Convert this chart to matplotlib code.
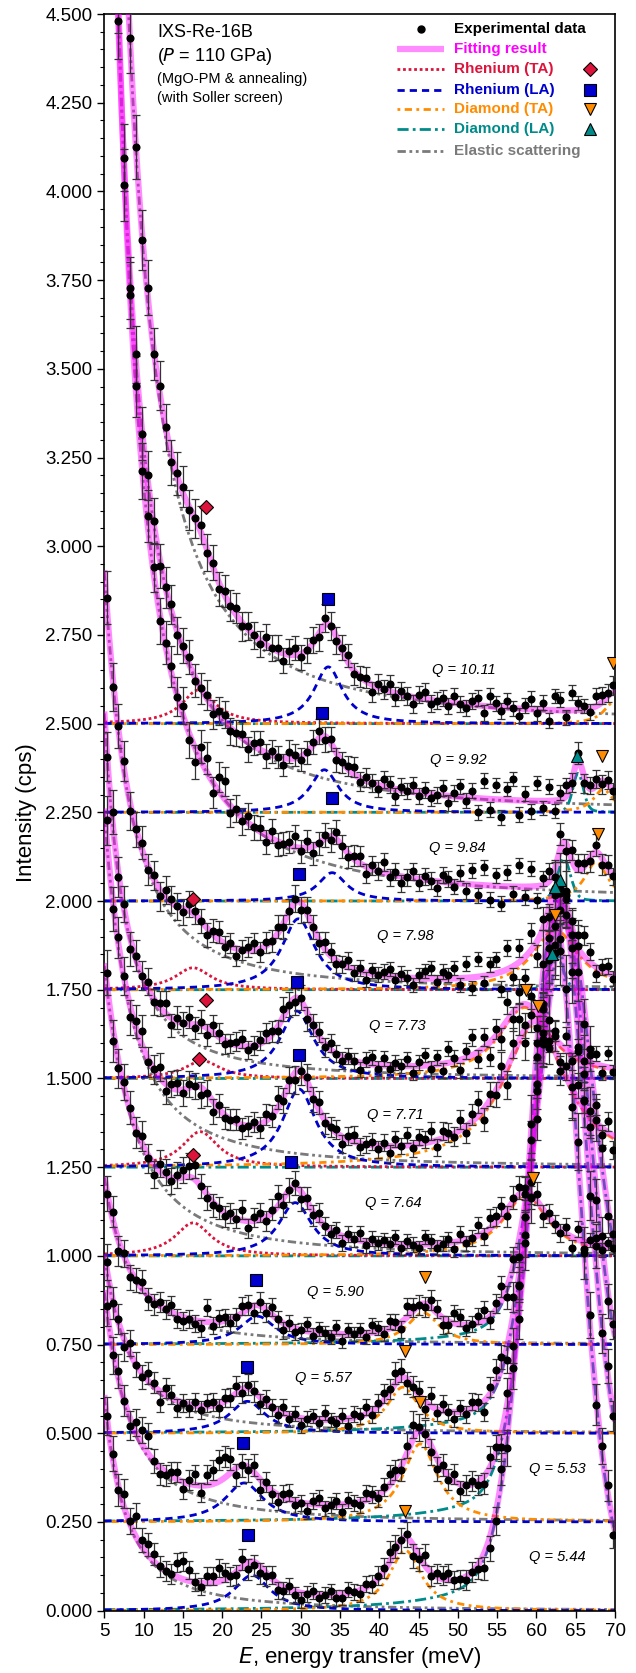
import numpy as np
import matplotlib
matplotlib.use("Agg")
import matplotlib.pyplot as plt
from matplotlib.ticker import MultipleLocator, FormatStrFormatter

plt.rcParams['font.family'] = ['Liberation Sans', 'DejaVu Sans']

# ---- spectra, listed bottom to top ----
q_values = ["5.44", "5.53", "5.57", "5.90", "7.64", "7.71", "7.73", "7.98", "9.84", "9.92", "10.11"]
offsets = [0.00, 0.25, 0.50, 0.75, 1.00, 1.25, 1.50, 1.75, 2.00, 2.25, 2.50]

# elastic line: K / (E^2 + g^2)
elastic_k = [17.0, 22.0, 17.0, 16.0, 33.5, 34.0, 27.2, 40.0, 118.0, 104.0, 133.0]
elastic_g = [1.8, 3.0, 3.0, 3.0, 4.0, 3.0, 1.2, 3.0, 0.8, 0.8, 1.0]

# Rhenium TA (Lorentzian: position, height, half width)
re_ta_pos = [0, 0, 0, 0, 16.3, 17.2, 17.5, 16.3, 0, 0, 17.0]
re_ta_amp = [0, 0, 0, 0, 0.093, 0.10, 0.05, 0.062, 0, 0, 0.095]
re_ta_hw = [2.8, 2.8, 2.8, 2.8, 2.8, 2.8, 2.8, 2.8, 2.8, 2.8, 2.6]

# Rhenium LA
re_la_pos = [23.8, 22.8, 23.2, 24.5, 29.3, 29.8, 29.5, 29.7, 34.0, 33.0, 33.5]
re_la_amp = [0.10, 0.11, 0.09, 0.08, 0.15, 0.22, 0.19, 0.20, 0.08, 0.12, 0.16]
re_la_hw = [2.8, 3.0, 2.8, 2.8, 2.6, 2.6, 2.6, 2.6, 2.2, 2.2, 2.2]

# Diamond TA
d_ta_pos = [43.3, 45.2, 43.0, 45.6, 58.6, 59.8, 58.5, 62.4, 67.6, 68.5, 69.8]
d_ta_amp = [0.17, 0.22, 0.13, 0.09, 0.17, 0.40, 0.20, 0.17, 0.11, 0.065, 0.06]
d_ta_hw = [2.5, 2.7, 2.5, 2.5, 3.5, 5.0, 4.0, 3.5, 1.8, 1.5, 1.5]

# Diamond LA (pseudo-Voigt: position, height, FWHM, Lorentz fraction)
d_la_pos = [62.2, 63.0, 63.3, 63.8, 0, 0, 0, 62.5, 63.5, 65.3, 0]
d_la_amp = [1.95, 1.75, 1.50, 1.20, 0, 0, 0, 0.10, 0.12, 0.11, 0]
d_la_fwhm = [8.0, 8.0, 8.0, 8.0, 0, 0, 0, 2.0, 2.0, 1.6, 0]
d_la_eta = [0.3, 0.3, 0.3, 0.3, 0, 0, 0, 0.3, 0.3, 0.3, 0]

# Q annotation positions
q_label_x = [62.6, 62.6, 32.9, 34.4, 41.8, 42.0, 42.25, 43.3, 49.9, 50.1, 50.7]
q_label_y = [0.150, 0.400, 0.657, 0.898, 1.149, 1.397, 1.647, 1.901, 2.150, 2.398, 2.652]

# peak markers
ta_mark_x = [18.0, 16.3, 17.9, 17.1, 16.3]
ta_mark_y = [3.11, 2.005, 1.72, 1.556, 1.285]
la_mark_x = [33.5, 32.7, 34.0, 29.8, 29.5, 29.8, 28.8, 24.3, 23.2, 22.6, 23.3]
la_mark_y = [2.85, 2.53, 2.291, 2.075, 1.771, 1.567, 1.264, 0.933, 0.687, 0.473, 0.214]
dta_mark_x = [69.7, 68.3, 67.8, 62.4, 58.7, 60.2, 59.6, 45.8, 43.3, 45.2, 43.3]
dta_mark_y = [2.67, 2.41, 2.19, 1.96, 1.75, 1.705, 1.22, 0.94, 0.731, 0.588, 0.28]
dla_mark_x = [65.2, 63.0, 62.3, 62.0]
dla_mark_y = [2.41, 2.06, 2.04, 1.85]

# measurement grid and the scatter of each measured point about the fit (in 0.01 cps)
e_start, e_step, n_pts = 5.3, 0.75, 87
scatter = {
    "5.44": [0, 1, -1, 4, 1, 6, 2, 3, 2, 0, 0, 0, 4, 5, 3, 0, -1, 2, 2, 4, 2, 0, -1, 2, -2, -1,
             -2, -1, 1, -2, -1, 1, -1, -2, 0, 1, -1, 0, 1, -1, -1, 1, 0, -1, 1, 0, 1,
             1, 3, 1, 0, 1, -3, -1, 3, -1, 1, 1, 2, 0, 0, -1, 0, -1, -4, -3, -2,
             3, -4, 2, 5, -6, 3, -2, 4, -5, 6, -3, 2, -4, 5, -2, 3, -3, 1, 2, -3],
    "5.53": [1, -2, 2, 0, -2, 3, 4, 5, 0, -2,
             -1, 1, 2, -2, 1, 3, -2, 3, 4, 6, 6, 4, -2, 0,
             -1, 2, -3, 1, -1, -2, 1, 2, -1, 0, -2, 1, 2, -1, 0, 1, -2, 1, 0, -1, 2, 1, -1,
             1, 3, 2, -1, 2, 4, 1, 0, -2, -3, 1, -1, 2, -2, 0, 1, -1, -2, 3, 2,
             -4, 3, 5, -2, 4, -6, 2, -3, 5, -4, 3, 6, -2, -5, 3, -2, 4, -3, 2, -1],
    "5.57": [2, -1, 1, -2, 3, 0, -1, 2, 1, -3, 2, 1, -2, 0, -1, 1, -1, 1, 1, -1, 1, 0, 2, -1, 1, 0,
             -2, 1, 0, -1, 2, -1, 1, -2, 0, 1, -1, 2, 0, -1, 1, -2, 1, 0, 2, -1, 1,
             2, 1, 3, 2, -1, 0, 1, -2, 3, -1, 2, 0, -2, 1, -1, 2, 1, -3, 2, 4,
             3, -4, 5, -3, 2, -5, 4, -2, 3, -6, 2, 4, -3, 5, -2, 3, -4, 2, -3, 1],
    "5.90": [-1, 2, -3, 1, -2, 0, 2, -1, -1, 1, 0, 2, -1, -1, 0, -1, -2, 4, -1, 1, 1, -1, 0, 2, 1, -2,
             1, -1, 2, 0, -2, 1, -1, 0, 2, -1, 1, 0, -1, 2, -2, 1, 0, 1, -1, 2, 1,
             -1, 2, 1, -2, 3, 1, 0, -1, 2, 1, -2, -1, 3, 2, -1, 0, 2, 3, -1, 2,
             4, -3, 2, -5, 3, 6, -2, 4, -4, 2, -3, 5, -2, 4, -5, 3, -2, 4, -3, 2],
    "7.64": [3, -4, -2, 2, 1, -1, 2, -1, -3, 2, 1, -1, 1, 2, 3, 4, 0, -1, -1, 0, -1, 1, 0, 3, -2, 1,
             2, -1, 1, 3, -2, 0, 1, -2, 1, -1, 2, 0, -1, 1, -2, 1, 0, 2, -1, 1, 0,
             1, 0, 2, -1, 1, 0, -1, 2, 1, -1, 0, 1, -2, 2, -1, 0, 3, -1, 3, 2,
             3, -2, 1, 2, 1, -1, 2, -2, 1, 0, -1, 2, -3, 3, -2, 1, 2, -1, 1, 0],
    "7.71": [5, -3, 2, 1, -3, 2, 4, -1, 0, 3, -2, 1, 2, -1, 1, 0, -2, 0, -3, 1, -1, 0, 1, -1, 0, 1,
             -1, 2, 0, 3, -1, 1, -2, 0, 1, -1, 2, -1, 0, 1, -2, 1, 2, -1, 0, 1, -1,
             1, -2, 2, 0, 3, -1, 2, 1, 3, -2, 2, 1, -1, 3, -2, 2, 4, -3, 2, -1,
             4, -5, 3, 6, -4, 2, -6, 5, -3, 4, -2, 3, -5, 4, 2, -3, 5, -2, 3, -4],
    "7.73": [-2, 3, -1, 2, -3, 1, 0, 2, -1, 1, 3, -2, 1, 0, 2, -1, 1, -2, 2, 1, -1, 0, 1, 2, -1, 0,
             1, 2, 1, -1, 2, 0, -1, 1, -2, 0, 1, -1, 2, 0, -1, 1, 0, -2, 1, 2, -1,
             2, -1, 1, 0, 2, -2, 1, 3, -1, 2, -2, 4, 1, -3, 2, 5, -2, 3, -4, 2,
             -3, 5, -2, 4, -6, 3, -4, 5, -3, 2, -5, 4, -2, 3, -4, 2, 3, -2, 4, -1],
    "7.98": [2, -3, 1, 3, -2, 0, 2, -1, 1, -2, 2, 1, 0, -1, 2, 1, 0, -2, 1, 2, -1, 1, -2, 0, 1, 2,
             -1, 1, 0, 2, -1, 0, 1, -2, 1, 0, -1, 2, 1, -1, 0, 2, -1, 1, -2, 1, 0,
             1, 2, -1, 1, 0, -2, 1, 2, 3, -1, 2, 1, 3, -2, 4, -3, 5, -2, 3, 4,
             -5, 6, -3, 4, -6, 5, -4, 3, -2, 4, -3, 2, 5, 4, 6, 3, -2, 1, 2, -1],
    "9.84": [3, -2, 4, -3, 1, 2, -1, 3, 2, -2, 1, 2, 0, 3, -2, -4, 4, 4, -3, 4, 5, -2, 1, -1, 2, 0,
             1, -2, 2, -1, 0, 1, 3, -1, 2, -2, 0, 1, -1, 2, 0, -1, 1, 2, -2, 1, 0,
             3, -1, 1, -2, 0, 2, -1, 1, 0, -2, 2, 1, -1, 3, -2, 4, -3, 5, -4, 3,
             -5, 4, -2, 6, -3, 5, -4, 2, 3, -5, 4, -2, 3, 2, 1, -1, 2, -2, 1, 0],
    "9.92": [2, -3, 1, 4, -2, 3, -1, 2, 1, -2, 0, 2, -1, 1, 2, -1, 0, 1, -2, 1, 2, -1, 0, 1, -2, 1,
             2, -1, 1, 0, -2, 2, 1, -1, 0, 1, 2, -1, 1, -2, 0, 1, 2, -1, 1, 0, -1,
             2, 1, -2, 1, 0, 2, -1, 1, -1, 0, 2, -2, 1, 3, -1, 2, -4, 5, -3, 4,
             -5, 3, 6, -4, 2, -3, 5, -2, 4, -3, 2, 3, -1, 2, -2, 1, 2, -1, 1, 0],
    "10.11": [3, -2, 4, -3, 2, 1, -2, 3, -1, 2, 0, -2, 1, 2, -1, 0, 2, -1, 1, -2, 1, 0, 2, -1, 1, 0,
              -1, 2, 0, 1, -2, 1, 2, -1, 0, 1, -1, 2, 0, -1, 1, 2, -1, 0, 1, -2, 1,
              0, 2, -1, 1, 0, -2, 1, 2, -1, 0, 1, -1, 2, 0, -1, 1, 2, -2, 3, 1,
              -1, 2, 0, -2, 1, 3, -1, 2, -3, 4, 3, -2, 5, 2, 1, -1, 3, 2, 1, 2],
}
err_scale = [0.07] * 11


def lorentz(e, x0, a, hw):
    return a / (1.0 + ((e - x0) / hw) ** 2)


def pvoigt(e, x0, a, fwhm, eta):
    u = 2.0 * (e - x0) / fwhm
    return a * (eta / (1.0 + u ** 2) + (1.0 - eta) * np.exp(-np.log(2) * u ** 2))


def components(i, e):
    el = elastic_k[i] / (e ** 2 + elastic_g[i] ** 2)
    ta = lorentz(e, re_ta_pos[i], re_ta_amp[i], re_ta_hw[i])
    la = lorentz(e, re_la_pos[i], re_la_amp[i], re_la_hw[i])
    dta = lorentz(e, d_ta_pos[i], d_ta_amp[i], d_ta_hw[i])
    if d_la_amp[i] > 0:
        dla = pvoigt(e, d_la_pos[i], d_la_amp[i], d_la_fwhm[i], d_la_eta[i])
    else:
        dla = np.zeros_like(e)
    return el, ta, la, dta, dla


RED = '#DC143C'
BLUE = '#0000CD'
ORANGE = '#FF8C00'
TEAL = '#008B8B'
GRAY = '#7A7A7A'
PINK = '#FF00FF'

st_el = (0, (3.0, 1.3, 1.0, 1.3, 1.0, 1.3))
st_ta = (0, (1.0, 1.0))
st_la = (0, (2.6, 1.8))
st_dta = (0, (1.0, 1.6, 2.6, 1.6))
st_dla = (0, (4.0, 1.5, 1.0, 1.5))
LW = 2.0

fig = plt.figure(figsize=(6.36, 16.73), dpi=100)
ax = fig.add_axes([104.3 / 636, 62.3 / 1673, 510.7 / 636, 1596.7 / 1673])

ef = np.linspace(5, 70, 1301)
ep = e_start + e_step * np.arange(n_pts)
for i, q in enumerate(q_values):
    b = offsets[i]
    el, ta, la, dta, dla = components(i, ef)
    ax.plot(ef, b + el, color=GRAY, lw=LW, ls=st_el, zorder=2)
    if re_ta_amp[i] > 0:
        ax.plot(ef, b + ta, color=RED, lw=LW, ls=st_ta, zorder=2.2)
    ax.plot(ef, b + dla, color=TEAL, lw=LW, ls=st_dla, zorder=2.1)
    ax.plot(ef, b + dta, color=ORANGE, lw=LW, ls=st_dta, zorder=2.3)
    ax.plot(ef, b + la, color=BLUE, lw=LW, ls=st_la, zorder=2.4)
    ax.plot(ef, b + el + ta + la + dta + dla, color=PINK, lw=4.5, alpha=0.45,
            solid_capstyle='butt', zorder=3)

    el, ta, la, dta, dla = components(i, ep)
    rel = el + ta + la + dta + dla
    y = b + rel + 0.01 * np.array(scatter[q])
    yerr = err_scale[i] * np.sqrt(rel + 0.05)
    ax.errorbar(ep, y, yerr=yerr, fmt='o', color='black', ms=4.8,
                ecolor='#333333', elinewidth=0.9, capsize=3.0, capthick=0.9, zorder=4)

    ax.text(q_label_x[i], q_label_y[i], "Q = " + q, style='italic',
            fontsize=10.5, ha='center', va='center', zorder=5)

mk = dict(markeredgecolor='black', markeredgewidth=0.8, ls='none', zorder=6)
ax.plot(ta_mark_x, ta_mark_y, marker='D', ms=7.5, color=RED, **mk)
ax.plot(la_mark_x, la_mark_y, marker='s', ms=8.0, color=BLUE, **mk)
ax.plot(dta_mark_x, dta_mark_y, marker='v', ms=9.0, color=ORANGE, **mk)
ax.plot(dla_mark_x, dla_mark_y, marker='^', ms=9.0, color=TEAL, **mk)

# legend drawn by hand in the upper right
leg_rows = [4.457, 4.400, 4.344, 4.287, 4.231, 4.175, 4.115]
leg_text = ["Experimental data", "Fitting result", "Rhenium (TA)", "Rhenium (LA)",
            "Diamond (TA)", "Diamond (LA)", "Elastic scattering"]
leg_color = ['black', PINK, RED, BLUE, ORANGE, TEAL, GRAY]
hx = [42.2, 48.2]
ax.plot([45.3], [leg_rows[0]], 'o', color='black', ms=5.0, zorder=6)
ax.plot(hx, [leg_rows[1]] * 2, color=PINK, lw=4.5, alpha=0.45, solid_capstyle='butt')
ax.plot(hx, [leg_rows[2]] * 2, color=RED, lw=LW, ls=st_ta)
ax.plot(hx, [leg_rows[3]] * 2, color=BLUE, lw=LW, ls=st_la)
ax.plot(hx, [leg_rows[4]] * 2, color=ORANGE, lw=LW, ls=st_dta)
ax.plot(hx, [leg_rows[5]] * 2, color=TEAL, lw=LW, ls=st_dla)
ax.plot(hx, [leg_rows[6]] * 2, color=GRAY, lw=LW, ls=st_el)
for r, t, c in zip(leg_rows, leg_text, leg_color):
    ax.text(49.55, r, t, color=c, fontsize=11, fontweight='bold', va='center', ha='left')
ax.plot([66.8], [leg_rows[2]], marker='D', ms=7.5, color=RED, **mk)
ax.plot([66.8], [leg_rows[3]], marker='s', ms=8.0, color=BLUE, **mk)
ax.plot([66.8], [leg_rows[4]], marker='v', ms=9.0, color=ORANGE, **mk)
ax.plot([66.8], [leg_rows[5]], marker='^', ms=9.0, color=TEAL, **mk)

# sample description
ax.text(11.75, 4.448, "IXS-Re-16B", fontsize=13, va='center', ha='left')
ax.text(11.75, 4.380, "($\\it{P}$ = 110 GPa)", fontsize=13, va='center', ha='left')
ax.text(11.75, 4.318, "(MgO-PM & annealing)", fontsize=10.5, va='center', ha='left')
ax.text(11.75, 4.262, "(with Soller screen)", fontsize=10.5, va='center', ha='left')

ax.set_xlim(5, 70)
ax.set_ylim(0, 4.5)
ax.xaxis.set_major_locator(MultipleLocator(5))
ax.yaxis.set_major_locator(MultipleLocator(0.25))
ax.yaxis.set_minor_locator(MultipleLocator(0.05))
ax.yaxis.set_major_formatter(FormatStrFormatter('%.3f'))
ax.tick_params(which='major', direction='out', length=5, width=1.0, labelsize=13.5)
ax.tick_params(which='minor', direction='out', length=3, width=0.8)
for s in ax.spines.values():
    s.set_linewidth(1.2)
ax.set_xlabel("$\\it{E}$, energy transfer (meV)", fontsize=16, labelpad=4)
ax.set_ylabel("Intensity (cps)", fontsize=16, labelpad=6)

fig.savefig("out.png", dpi=100)
